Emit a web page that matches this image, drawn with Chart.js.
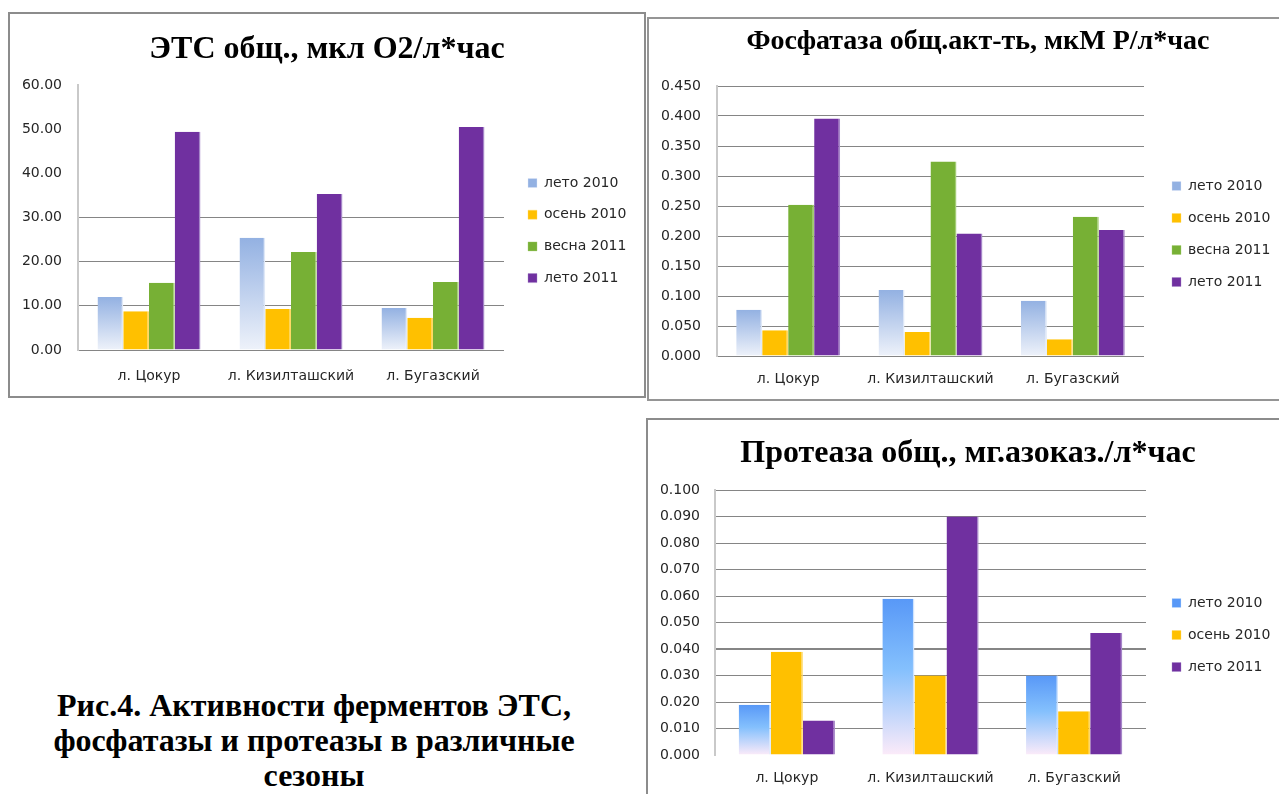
<!DOCTYPE html>
<html><head><meta charset="utf-8">
<script src="https://cdn.jsdelivr.net/npm/chart.js@4.4.0/dist/chart.umd.min.js"></script>
<style>
html,body{margin:0;padding:0;background:#fff;width:1279px;height:794px;overflow:hidden;position:relative;}
.frame{position:absolute;box-sizing:border-box;border:2px solid #8c8c8c;background:#fff;overflow:hidden;}
.frame canvas{position:absolute;left:0;top:0;}
#caption{position:absolute;left:14px;top:688px;width:600px;text-align:center;font-family:"Liberation Serif",serif;font-weight:bold;font-size:32px;line-height:35px;color:#000;}
</style></head><body>
<div class="frame" style="left:8px;top:12px;width:638px;height:386px;"><canvas id="c1" width="634" height="382"></canvas></div>
<div class="frame" style="left:647px;top:17px;width:640px;height:384px;border-color:#959595;"><canvas id="c2" width="636" height="380"></canvas></div>
<div class="frame" style="left:646px;top:418px;width:640px;height:382px;"><canvas id="c3" width="636" height="378"></canvas></div>
<div id="caption">Рис.4. Активности ферментов ЭТС,<br>фосфатазы и протеазы в различные<br>сезоны</div>
<script>
// ---------- data ----------
const categories = ['л. Цокур', 'л. Кизилташский', 'л. Бугазский'];

const etsTitle = 'ЭТС общ., мкл О2/л*час';
const etsTicks = [0, 10, 20, 30, 40, 50, 60];
const etsLeto2010 = [12.0, 25.4, 9.5];
const etsOsen2010 = [8.8, 9.3, 7.3];
const etsVesna2011 = [15.2, 22.2, 15.4];
const etsLeto2011 = [49.4, 35.3, 50.5];

const phosTitle = 'Фосфатаза общ.акт-ть, мкМ Р/л*час';
const phosTicks = [0, 0.05, 0.1, 0.15, 0.2, 0.25, 0.3, 0.35, 0.4, 0.45];
const phosLeto2010 = [0.077, 0.110, 0.092];
const phosOsen2010 = [0.043, 0.040, 0.028];
const phosVesna2011 = [0.252, 0.324, 0.232];
const phosLeto2011 = [0.396, 0.204, 0.210];

const protTitle = 'Протеаза общ., мг.азоказ./л*час';
const protTicks = [0, 0.01, 0.02, 0.03, 0.04, 0.05, 0.06, 0.07, 0.08, 0.09, 0.1];
const protLeto2010 = [0.019, 0.059, 0.030];
const protOsen2010 = [0.039, 0.030, 0.0165];
const protLeto2011 = [0.013, 0.090, 0.046];

// ---------- styles ----------
const ORANGE = '#ffc000', GREEN = '#77b035', PURPLE = '#7030a0';
const ORANGE_EDGE = '#ffd966', GREEN_EDGE = '#a3cc74', PURPLE_EDGE = '#a585c8', BLUE_EDGE = '#dfe8f7';
const paleBlueStops = [[0, '#93b1e2'], [1, '#eef2fa']];
const brightBlueStops = [[0, '#5898f7'], [0.45, '#84c0fd'], [1, '#fcebf9']];
const TXT = '#262626';
const GRID = '#858585';
const EDGE = { top: 0, left: 0, bottom: 0, right: 1.5 };

function barGradient(stops, fallback) {
  return (c) => {
    const ch = c.chart;
    if (c.type !== 'data' || !ch.chartArea) return fallback;
    const ys = ch.scales.y;
    const top = ys.getPixelForValue(c.raw);
    const bot = ys.getPixelForValue(0);
    if (!isFinite(top) || !isFinite(bot) || top === bot) return fallback;
    const g = ch.ctx.createLinearGradient(0, top, 0, bot);
    stops.forEach(s => g.addColorStop(s[0], s[1]));
    return g;
  };
}

function makeChart(id, title, ticks, decimals, datasets, geo, gridRule) {
  const canvas = document.getElementById(id);
  const W = canvas.width, H = canvas.height;
  const lh = geo.titleSize * 1.2;
  const padL = 0;
  const padR = W - geo.titleX * 2;   // may be negative: only centres the title
  const padTop = geo.titleY - lh / 2;
  const legPad = geo.legendGap - 14;
  const legendWidth = W - geo.right - padR;
  const geoPlugin = {
    id: 'geo',
    beforeLayout(chart) {
      const lg = chart.legend;
      if (lg && !lg._fixedFit) {
        const f = lg.fit.bind(lg);
        lg.fit = function () { f(); this.width = legendWidth; };
        lg._fixedFit = true;
      }
    },
    afterLayout(chart) {
      const lg = chart.legend;
      if (!lg) return;
      const h = lg.height, w = lg.width;
      lg.left = geo.legendX - legPad;
      lg.top = geo.legendY - 7 - legPad;
      lg.right = lg.left + w;
      lg.bottom = lg.top + h;
    }
  };
  const near = (a, b) => Math.abs(a - b) < 1e-9;
  return new Chart(canvas, {
    type: 'bar',
    data: { labels: categories, datasets },
    plugins: [geoPlugin],
    options: {
      responsive: false,
      animation: false,
      devicePixelRatio: 1,
      layout: { padding: { top: padTop, left: padL, right: padR, bottom: 0 } },
      datasets: { bar: { categoryPercentage: geo.catPct, barPercentage: 1, borderWidth: EDGE, borderSkipped: false } },
      plugins: {
        title: {
          display: true, text: title, color: '#000',
          font: { family: '"Liberation Serif", serif', size: geo.titleSize, weight: 'bold', lineHeight: 1.2 },
          padding: { top: 0, bottom: geo.top - padTop - lh }
        },
        legend: {
          position: 'right', align: 'start',
          labels: {
            boxWidth: 9, boxHeight: 9, padding: legPad, color: TXT,
            font: { family: '"DejaVu Sans", sans-serif', size: 14 }
          }
        },
        tooltip: { enabled: false }
      },
      scales: {
        x: {
          grid: { display: false, drawTicks: false },
          border: { display: false },
          ticks: { color: TXT, padding: geo.labelY - geo.bottom - 8, maxRotation: 0,
                   font: { family: '"DejaVu Sans", sans-serif', size: 14 } },
          afterFit: s => { s.height = H - geo.bottom; }
        },
        y: {
          min: ticks[0], max: ticks[ticks.length - 1],
          afterBuildTicks: s => { s.ticks = ticks.map(v => ({ value: v })); },
          grid: {
            drawTicks: false,
            color: c => gridRule(c.tick ? c.tick.value : 0, near) ? GRID : 'rgba(0,0,0,0)',
            lineWidth: c => (geo.thick !== undefined && c.tick && near(c.tick.value, geo.thick)) ? 2 : 1
          },
          border: { display: true, color: '#c9c9c9', width: 2 },
          ticks: { color: TXT, padding: geo.tickPad,
                   font: { family: '"DejaVu Sans", sans-serif', size: 14 },
                   callback: v => Number(v).toFixed(decimals) },
          afterFit: s => { s.width = geo.left - padL; }
        }
      }
    }
  });
}

makeChart('c1', etsTitle, etsTicks, 2, [
  { label: 'лето 2010', data: etsLeto2010, backgroundColor: barGradient(paleBlueStops, '#bccdee'), borderColor: BLUE_EDGE },
  { label: 'осень 2010', data: etsOsen2010, backgroundColor: ORANGE, borderColor: ORANGE_EDGE },
  { label: 'весна 2011', data: etsVesna2011, backgroundColor: GREEN, borderColor: GREEN_EDGE },
  { label: 'лето 2011', data: etsLeto2011, backgroundColor: PURPLE, borderColor: PURPLE_EDGE }
], { left: 68, right: 494, top: 71, bottom: 336, titleY: 36, titleX: 317, titleSize: 32,
     labelY: 362, legendX: 518, legendY: 169, legendGap: 31.7, catPct: 0.725, tickPad: 16 },
   (v, near) => v <= 30 + 1e-9);

makeChart('c2', phosTitle, phosTicks, 3, [
  { label: 'лето 2010', data: phosLeto2010, backgroundColor: barGradient(paleBlueStops, '#bccdee'), borderColor: BLUE_EDGE },
  { label: 'осень 2010', data: phosOsen2010, backgroundColor: ORANGE, borderColor: ORANGE_EDGE },
  { label: 'весна 2011', data: phosVesna2011, backgroundColor: GREEN, borderColor: GREEN_EDGE },
  { label: 'лето 2011', data: phosLeto2011, backgroundColor: PURPLE, borderColor: PURPLE_EDGE }
], { left: 68, right: 495, top: 67, bottom: 337, titleY: 23, titleX: 329, titleSize: 28,
     labelY: 360, legendX: 523, legendY: 167, legendGap: 32, catPct: 0.73, tickPad: 16 },
   (v, near) => true);

makeChart('c3', protTitle, protTicks, 3, [
  { label: 'лето 2010', data: protLeto2010, backgroundColor: barGradient(brightBlueStops, '#7fb6fb'), borderColor: '#cfe3fd' },
  { label: 'осень 2010', data: protOsen2010, backgroundColor: ORANGE, borderColor: ORANGE_EDGE },
  { label: 'лето 2011', data: protLeto2011, backgroundColor: PURPLE, borderColor: PURPLE_EDGE }
], { left: 67, right: 498, top: 70, bottom: 335, titleY: 34, titleX: 320, titleSize: 32,
     labelY: 358, legendX: 524, legendY: 183, legendGap: 32, catPct: 0.67, tickPad: 15, thick: 0.04 },
   (v, near) => !near(v, 0));
</script>
</body></html>
